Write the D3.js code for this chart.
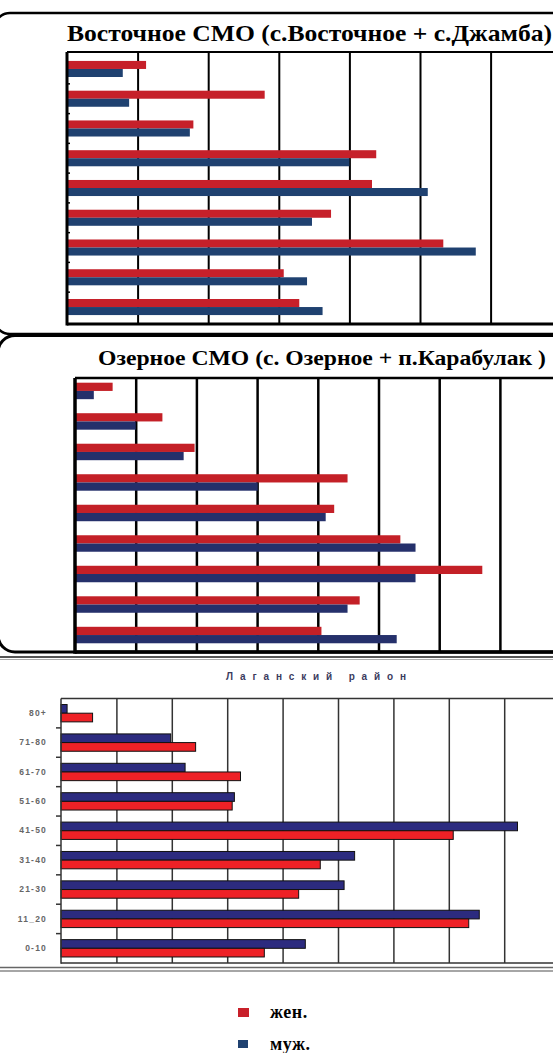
<!DOCTYPE html>
<html>
<head>
<meta charset="utf-8">
<script src="https://cdn.jsdelivr.net/npm/d3@7"></script>
<style>
  body { margin: 0; background: #fff; }
  svg { display: block; }
</style>
</head>
<body>
<div id="chart"></div>
<script>
// age groups, top row first
const ageGroups = ['80+', '71-80', '61-70', '51-60', '41-50', '31-40', '21-30', '11_20', '0-10'];
const seriesNames = ['жен.', 'муж.'];

// values, in gridline units
const vostWomen = [1.12, 2.80, 1.79, 4.38, 4.32, 3.74, 5.33, 3.07, 3.29];
const vostMen   = [0.79, 0.88, 1.74, 4.00, 5.11, 3.47, 5.79, 3.40, 3.62];
const ozWomen   = [0.62, 1.44, 1.97, 4.49, 4.27, 5.36, 6.71, 4.69, 4.06];
const ozMen     = [0.31, 1.00, 1.79, 3.01, 4.13, 5.61, 5.61, 4.49, 5.30];
const lagWomen  = [0.57, 2.43, 3.24, 3.09, 7.08, 4.68, 4.29, 7.36, 3.67];
const lagMen    = [0.11, 1.98, 2.24, 3.13, 8.24, 5.30, 5.11, 7.55, 4.41];
const gridTicks = [1, 2, 3, 4, 5, 6, 7, 8];

const W = 553, H = 1053;

const svg = d3.select('#chart')
    .append('svg')
    .attr('width', W)
    .attr('height', H);

svg.append('rect').attr('width', W).attr('height', H).attr('fill', '#fff');

// rounded frames of the two upper panels
svg.append('rect')
    .attr('x', -6).attr('y', 13)
    .attr('width', W + 30).attr('height', 321)
    .attr('rx', 16)
    .attr('fill', 'none').attr('stroke', '#000').attr('stroke-width', 2.5);

svg.append('rect')
    .attr('x', -2).attr('y', 335.5)
    .attr('width', W + 30).attr('height', 316.5)
    .attr('rx', 17)
    .attr('fill', 'none').attr('stroke', '#000').attr('stroke-width', 3);

// separators around the lower panel
[[657, '#555', 2], [659.5, '#aaa', 1], [967.5, '#666', 1.5], [971, '#888', 1.5]].forEach(([yy, c, w]) => {
    svg.append('line')
        .attr('x1', 0).attr('x2', W)
        .attr('y1', yy).attr('y2', yy)
        .attr('stroke', c).attr('stroke-width', w);
});

function drawPanel(o) {
    const g = svg.append('g');

    const x = d3.scaleLinear()
        .domain([0, 9])
        .range([o.x0, o.x0 + 9 * o.step]);

    const y = d3.scaleBand()
        .domain(ageGroups)
        .range([o.top, o.bottom])
        .paddingInner(o.pi)
        .paddingOuter(o.po)
        .align(o.align);

    const sub = d3.scaleBand()
        .domain(o.keys)
        .range([0, y.bandwidth()]);

    // vertical gridlines
    g.append('g')
        .attr('transform', `translate(0,${o.bottom})`)
        .call(d3.axisBottom(x).tickValues(gridTicks).tickSize(-(o.bottom - o.top)).tickFormat(''))
        .call(a => a.select('.domain').remove())
        .call(a => a.selectAll('line').attr('stroke', o.gridColor).attr('stroke-width', o.gridWidth));

    const rows = ageGroups.map((c, i) => ({
        cat: c,
        values: o.keys.map(k => ({ key: k, v: o.series[k][i] }))
    }));

    g.append('g')
        .selectAll('g')
        .data(rows)
        .join('g')
        .attr('transform', d => `translate(0,${y(d.cat)})`)
        .selectAll('rect')
        .data(d => d.values)
        .join('rect')
        .attr('x', x(0))
        .attr('y', d => sub(d.key))
        .attr('width', d => x(d.v) - x(0))
        .attr('height', sub.bandwidth())
        .attr('fill', d => o.colors[d.key])
        .attr('stroke', o.barStroke || 'none')
        .attr('stroke-width', o.barStroke ? 1 : 0);

    // plot frame
    g.append('line')
        .attr('x1', o.x0).attr('x2', W)
        .attr('y1', o.top).attr('y2', o.top)
        .attr('stroke', o.frameColor).attr('stroke-width', o.topWidth);
    g.append('line')
        .attr('x1', o.x0).attr('x2', W)
        .attr('y1', o.bottom).attr('y2', o.bottom)
        .attr('stroke', o.frameColor).attr('stroke-width', o.axisWidth);
    g.append('line')
        .attr('x1', o.x0).attr('x2', o.x0)
        .attr('y1', o.top).attr('y2', o.bottom + o.axisWidth / 2)
        .attr('stroke', o.frameColor).attr('stroke-width', o.axisWidth);

    // small ticks between the categories
    g.append('g')
        .selectAll('line')
        .data(d3.range(1, ageGroups.length))
        .join('line')
        .attr('x1', o.x0 + o.tickIn).attr('x2', o.x0 - o.tickOut)
        .attr('y1', k => y(ageGroups[k]) - y.step() * y.paddingInner() / 2)
        .attr('y2', k => y(ageGroups[k]) - y.step() * y.paddingInner() / 2)
        .attr('stroke', o.frameColor).attr('stroke-width', 1.5);

    if (o.showLabels) {
        g.append('g')
            .attr('transform', `translate(${o.x0},0)`)
            .call(d3.axisLeft(y).tickSize(0).tickPadding(14))
            .call(a => a.select('.domain').remove())
            .call(a => a.selectAll('text')
                .attr('font-family', 'Liberation Sans, Arial, sans-serif')
                .attr('font-size', 8.5)
                .attr('font-weight', 'bold')
                .attr('letter-spacing', 1.2)
                .attr('fill', '#666'));
    }

    svg.append('text')
        .attr('x', o.titleX)
        .attr('y', o.titleY)
        .attr('textLength', o.titleLen)
        .attr('lengthAdjust', o.titleAdjust)
        .attr('font-family', o.titleFont)
        .attr('font-size', o.titleSize)
        .attr('font-weight', 'bold')
        .attr('fill', o.titleColor)
        .text(o.title);
}

drawPanel({
    title: 'Восточное СМО (с.Восточное + с.Джамба)',
    titleX: 67, titleY: 41, titleLen: 485, titleSize: 24,
    titleAdjust: 'spacingAndGlyphs', titleFont: 'Liberation Serif, Times New Roman, serif', titleColor: '#000',
    x0: 67, step: 70.6, top: 52, bottom: 324,
    pi: 0.46, po: 0.3, align: 0.5,
    keys: ['жен.', 'муж.'],
    series: { 'жен.': vostWomen, 'муж.': vostMen },
    colors: { 'жен.': '#c6202a', 'муж.': '#1f4170' },
    gridColor: '#000', gridWidth: 2, frameColor: '#000', topWidth: 2, axisWidth: 3,
    tickIn: 3, tickOut: 0, showLabels: false
});

drawPanel({
    title: 'Озерное СМО (с. Озерное + п.Карабулак )',
    titleX: 98, titleY: 365, titleLen: 448, titleSize: 20,
    titleAdjust: 'spacingAndGlyphs', titleFont: 'Liberation Serif, Times New Roman, serif', titleColor: '#000',
    x0: 75, step: 60.7, top: 378, bottom: 652,
    pi: 0.46, po: 0.22, align: 0.35,
    keys: ['жен.', 'муж.'],
    series: { 'жен.': ozWomen, 'муж.': ozMen },
    colors: { 'жен.': '#c42027', 'муж.': '#25306b' },
    gridColor: '#000', gridWidth: 2.5, frameColor: '#000', topWidth: 2.5, axisWidth: 3.5,
    tickIn: 0, tickOut: 0, showLabels: false
});

drawPanel({
    title: 'Лаганский район',
    titleX: 226, titleY: 680, titleLen: 180, titleSize: 10,
    titleAdjust: 'spacing', titleFont: 'Liberation Sans, Arial, sans-serif', titleColor: '#3b3b5e',
    x0: 61, step: 55.4, top: 698.5, bottom: 963,
    pi: 0.41, po: 0.205, align: 0.5,
    keys: ['муж.', 'жен.'],
    series: { 'жен.': lagWomen, 'муж.': lagMen },
    colors: { 'жен.': '#ee2126', 'муж.': '#2c2b7f' },
    barStroke: '#111',
    gridColor: '#333', gridWidth: 1.5, frameColor: '#333', topWidth: 1.5, axisWidth: 1.5,
    tickIn: 0, tickOut: 5, showLabels: true
});

// legend
const legendColors = { 'жен.': '#c8202a', 'муж.': '#1f4170' };
const legend = svg.append('g');
seriesNames.forEach((name, i) => {
    const yy = 1008 + i * 32;
    legend.append('rect')
        .attr('x', 238).attr('y', yy)
        .attr('width', i === 0 ? 11 : 10).attr('height', i === 0 ? 9 : 8)
        .attr('fill', legendColors[name]);
    legend.append('text')
        .attr('x', 270).attr('y', yy + 10)
        .attr('font-family', 'Liberation Serif, Times New Roman, serif')
        .attr('font-size', 18)
        .attr('font-weight', 'bold')
        .attr('letter-spacing', 0.5)
        .attr('fill', '#000')
        .text(name);
});
</script>
</body>
</html>
